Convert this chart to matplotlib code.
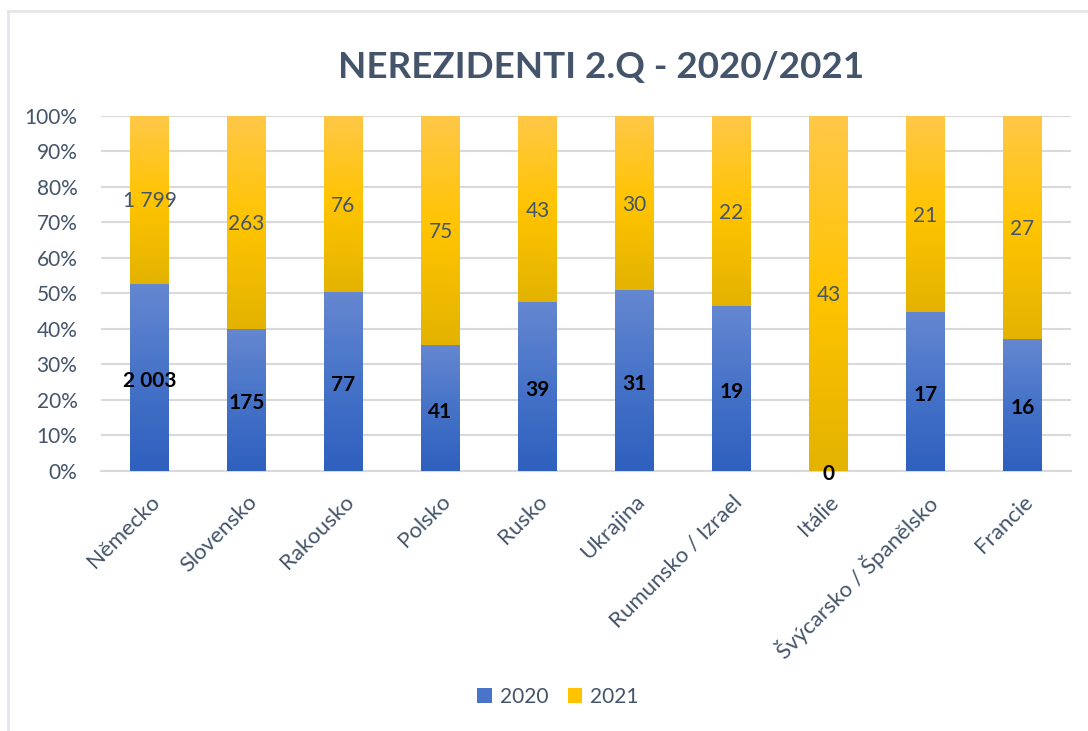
import numpy as np
import matplotlib
matplotlib.use('Agg')
import matplotlib.pyplot as plt
from matplotlib.colors import LinearSegmentedColormap
from matplotlib.patches import Patch
from matplotlib.lines import Line2D

plt.rcParams['font.family'] = ['Lato', 'DejaVu Sans']

# Data
countries = ['Německo', 'Slovensko', 'Rakousko', 'Polsko', 'Rusko', 'Ukrajina',
             'Rumunsko / Izrael', 'Itálie', 'Švýcarsko / Španělsko', 'Francie']
vals_2020 = [2003, 175, 77, 41, 39, 31, 19, 0, 17, 16]
vals_2021 = [1799, 263, 76, 75, 43, 30, 22, 43, 21, 27]
series_names = ['2020', '2021']

text_col = '#44546A'
grid_col = '#D9D9D9'

# Gradient colour maps (bottom -> top)
blue_cmap = LinearSegmentedColormap.from_list('blue', ['#2F60BE', '#4673C8', '#6587D1'])
gold_cmap = LinearSegmentedColormap.from_list('gold', ['#E3B300', '#FFC400', '#FFC848'])

v20 = np.array(vals_2020, dtype=float)
v21 = np.array(vals_2021, dtype=float)
total = v20 + v21
p20 = v20 / total * 100
p21 = v21 / total * 100
x = np.arange(len(countries))
width = 0.4

fig = plt.figure(figsize=(10.88, 7.31), dpi=100)
ax = fig.add_axes([101 / 1088, 1 - 470.7 / 731, 970 / 1088, 355 / 731])

grad = np.linspace(0, 1, 256).reshape(-1, 1)

def gradient_bars(bars, cmap):
    for b in bars:
        x0, y0 = b.get_x(), b.get_y()
        w, h = b.get_width(), b.get_height()
        if h <= 0:
            continue
        im = ax.imshow(grad, cmap=cmap, origin='lower', aspect='auto',
                       extent=[x0, x0 + w, y0, y0 + h], zorder=3)
        im.set_clip_path(b)
        b.set_facecolor('none')

bars20 = ax.bar(x, p20, width, zorder=2, linewidth=0)
bars21 = ax.bar(x, p21, width, bottom=p20, zorder=2, linewidth=0)
gradient_bars(bars20, blue_cmap)
gradient_bars(bars21, gold_cmap)

# Data labels
for i in range(len(countries)):
    ax.text(x[i], p20[i] / 2 - 1, f'{vals_2020[i]:,}'.replace(',', ' '),
            ha='center', va='center', fontsize=15, fontweight='bold',
            color='black', zorder=5)
    ax.text(x[i], p20[i] + p21[i] / 2 - 0.5, f'{vals_2021[i]:,}'.replace(',', ' '),
            ha='center', va='center', fontsize=15, color=text_col, zorder=5)

ax.set_xlim(-0.5, len(countries) - 0.5)
ax.set_ylim(0, 100)
ax.set_yticks(np.arange(0, 101, 10))
ax.set_yticklabels([f'{t}%' for t in range(0, 101, 10)])
ax.yaxis.grid(True, color=grid_col, linewidth=1.5, zorder=0)
ax.set_axisbelow(True)
for s in ['top', 'right', 'left']:
    ax.spines[s].set_visible(False)
ax.spines['bottom'].set_color(grid_col)
ax.spines['bottom'].set_linewidth(1.5)
ax.tick_params(axis='both', length=0, labelsize=15, colors=text_col)
ax.tick_params(axis='y', pad=17)
ax.set_xticks(x)
ax.set_xticklabels(countries, rotation=45, ha='right', rotation_mode='anchor')
ax.tick_params(axis='x', pad=15, labelsize=16)

fig.text(0.552, 0.908, 'NEREZIDENTI 2.Q - 2020/2021', ha='center', va='center',
         fontsize=26.5, fontweight='bold', color=text_col)

handles = [Patch(facecolor='#4A74C9', edgecolor='none'),
           Patch(facecolor='#FFC300', edgecolor='none')]
fig.legend(handles, series_names, loc='center', bbox_to_anchor=(0.513, 0.047),
           ncol=2, frameon=False, fontsize=15, labelcolor=text_col,
           handlelength=0.7, handleheight=0.7, handletextpad=0.4, columnspacing=0.9)

# Chart frame (partially visible)
fig.add_artist(Line2D([7.5 / 1088, 7.5 / 1088], [0, 1 - 10.5 / 731],
                      transform=fig.transFigure, color='#E3E6EA', linewidth=2))
fig.add_artist(Line2D([7.5 / 1088, 1], [1 - 10.5 / 731, 1 - 10.5 / 731],
                      transform=fig.transFigure, color='#E3E6EA', linewidth=2))

fig.savefig('out.png', dpi=100)
